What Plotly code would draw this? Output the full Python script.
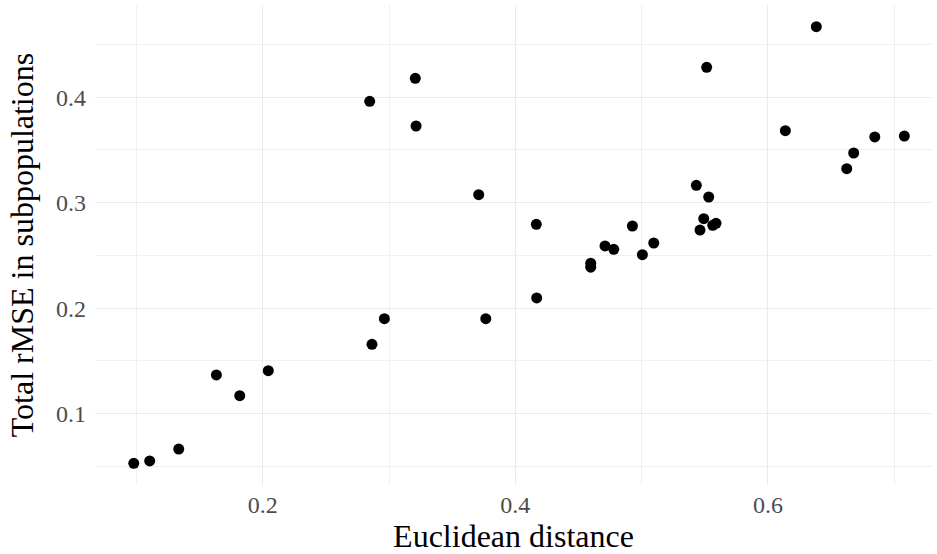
import plotly.graph_objects as go

euclid = [0.0979, 0.1105, 0.1335, 0.1633, 0.1818, 0.2044,
          0.2847, 0.2865, 0.2963, 0.3208, 0.3214, 0.3710, 0.3766,
          0.4166, 0.4169, 0.4597, 0.4597, 0.4710, 0.4779, 0.4927,
          0.5006, 0.5096, 0.5433, 0.5462, 0.5492, 0.5515, 0.5531,
          0.5563, 0.5589, 0.6138, 0.6383, 0.6624, 0.6679, 0.6846, 0.7080]
rmse = [0.0530, 0.0552, 0.0665, 0.1367, 0.1171, 0.1408,
        0.3961, 0.1658, 0.1901, 0.4179, 0.3727, 0.3076, 0.1901,
        0.2795, 0.2097, 0.2427, 0.2389, 0.2590, 0.2558, 0.2779,
        0.2507, 0.2618, 0.3165, 0.2741, 0.2848, 0.4283, 0.3054,
        0.2786, 0.2805, 0.3683, 0.4668, 0.3322, 0.3471, 0.3623, 0.3632]

FONT = "Liberation Serif"

fig = go.Figure(go.Scatter(
    x=euclid, y=rmse, mode="markers",
    marker=dict(color="black", size=11, line=dict(width=0)),
    hoverinfo="x+y"))

grid = "#ebebeb"
fig.update_layout(
    width=937, height=554,
    paper_bgcolor="white", plot_bgcolor="white",
    margin=dict(l=95, r=5, t=5, b=69),
    showlegend=False,
    font=dict(family=FONT, color="black"),
    xaxis=dict(
        range=[0.0672, 0.7299], dtick=0.2, tick0=0, tickformat=".1f",
        showgrid=True, gridcolor=grid, gridwidth=1.4, zeroline=False,
        showline=False, ticks="", tickfont=dict(family=FONT, size=24, color="#4d4d4d"),
        ticklabelstandoff=3, automargin=False,
        minor=dict(dtick=0.1, tick0=0.1, showgrid=True, gridcolor="#f0f0f0", gridwidth=0.8),
        title=dict(text="Euclidean distance", font=dict(family=FONT, size=32), standoff=6),
    ),
    yaxis=dict(
        range=[0.0324, 0.4874], dtick=0.1, tick0=0, tickformat=".1f",
        showgrid=True, gridcolor=grid, gridwidth=1.4, zeroline=False,
        showline=False, ticks="", tickfont=dict(family=FONT, size=24, color="#4d4d4d"),
        ticklabelstandoff=8, automargin=False,
        minor=dict(dtick=0.05, tick0=0.05, showgrid=True, gridcolor="#f0f0f0", gridwidth=0.8),
        title=dict(text="Total rMSE in subpopulations", font=dict(family=FONT, size=32), standoff=12),
    ),
)

fig.write_html("out.html",
               config={"displayModeBar": False},
               post_script="document.body.style.margin='0';document.body.style.padding='0';")
